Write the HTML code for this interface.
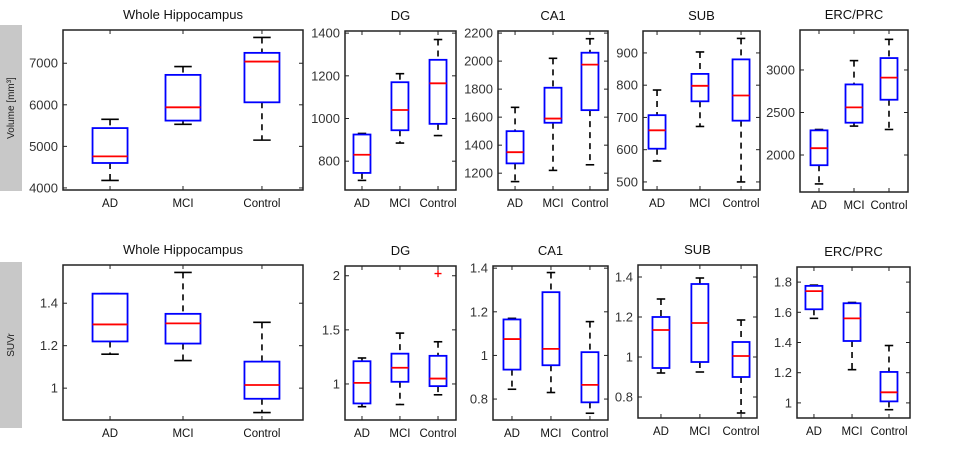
<!DOCTYPE html>
<html><head><meta charset="utf-8"><style>
body{margin:0;background:#fff;width:974px;height:447px;overflow:hidden;font-family:"Liberation Sans",sans-serif}
svg text{font-family:"Liberation Sans",sans-serif}
</style></head><body>
<svg id="chart" width="974" height="447">
<rect x="0" y="25" width="22" height="166" fill="#c8c8c8"/>
<text transform="translate(14,108) rotate(-90)" text-anchor="middle" font-size="10" fill="#222">Volume [mm³]</text>
<rect x="0" y="262" width="22" height="166" fill="#c8c8c8"/>
<text transform="translate(14,345) rotate(-90)" text-anchor="middle" font-size="10" fill="#222">SUVr</text>
</svg>
<script>
const categories = ["AD","MCI","Control"];
// Volume row
const volWH_lo=[4180,5530,5150], volWH_q1=[4600,5620,6060], volWH_med=[4760,5940,7040], volWH_q3=[5440,6720,7250], volWH_hi=[5650,6920,7620];
const volWH_ticks=[4000,5000,6000,7000];
const volDG_lo=[710,885,920], volDG_q1=[745,945,975], volDG_med=[830,1040,1165], volDG_q3=[925,1170,1275], volDG_hi=[930,1210,1370];
const volDG_ticks=[800,1000,1200,1400];
const volCA1_lo=[1140,1220,1260], volCA1_q1=[1270,1560,1650], volCA1_med=[1350,1590,1975], volCA1_q3=[1500,1810,2060], volCA1_hi=[1670,2020,2160];
const volCA1_ticks=[1200,1400,1600,1800,2000,2200];
const volSUB_lo=[565,672,500], volSUB_q1=[603,750,690], volSUB_med=[660,798,768], volSUB_q3=[707,835,880], volSUB_hi=[785,903,945];
const volSUB_ticks=[500,600,700,800,900];
const volERC_lo=[1660,2340,2300], volERC_q1=[1880,2380,2650], volERC_med=[2080,2560,2910], volERC_q3=[2290,2830,3140], volERC_hi=[2300,3110,3360];
const volERC_ticks=[2000,2500,3000];
// SUVr row
const suvWH_lo=[1.16,1.13,0.885], suvWH_q1=[1.22,1.21,0.95], suvWH_med=[1.30,1.305,1.015], suvWH_q3=[1.445,1.35,1.125], suvWH_hi=[1.445,1.545,1.31];
const suvWH_ticks=[1,1.2,1.4];
const suvDG_lo=[0.79,0.81,0.9], suvDG_q1=[0.82,1.02,0.98], suvDG_med=[1.01,1.15,1.05], suvDG_q3=[1.21,1.28,1.26], suvDG_hi=[1.24,1.47,1.39];
const suvDG_outliers=[null,null,2.02];
const suvDG_ticks=[1,1.5,2];
const suvCA1_lo=[0.845,0.83,0.735], suvCA1_q1=[0.935,0.955,0.785], suvCA1_med=[1.075,1.03,0.865], suvCA1_q3=[1.165,1.29,1.015], suvCA1_hi=[1.17,1.38,1.155];
const suvCA1_ticks=[0.8,1,1.2,1.4];
const suvSUB_lo=[0.92,0.925,0.72], suvSUB_q1=[0.945,0.975,0.9], suvSUB_med=[1.135,1.17,1.005], suvSUB_q3=[1.2,1.365,1.075], suvSUB_hi=[1.29,1.395,1.185];
const suvSUB_ticks=[0.8,1,1.2,1.4];
const suvERC_lo=[1.56,1.22,0.955], suvERC_q1=[1.62,1.41,1.01], suvERC_med=[1.74,1.56,1.07], suvERC_q3=[1.775,1.66,1.205], suvERC_hi=[1.78,1.665,1.38];
const suvERC_ticks=[1,1.2,1.4,1.6,1.8];

const NS="http://www.w3.org/2000/svg";
const svg=document.getElementById('chart');
function mk(tag,attrs,parent){const e=document.createElementNS(NS,tag);for(const k in attrs)e.setAttribute(k,attrs[k]);(parent||svg).appendChild(e);return e;}

function panel(p){
  const g=mk('g',{});
  
  
  const y=v=>p.y1-(v-p.ymin)/(p.ymax-p.ymin)*(p.y1-p.y0);
  const x=i=>p.x0+p.cx[i]*(p.x1-p.x0);
  const t=mk('text',{x:(p.x0+p.x1)/2,y:p.y0-11,'text-anchor':'middle','font-size':13,fill:'#111'},g);
  t.textContent=p.title;
  
  
  p.ticks.forEach(v=>{
    const yy=y(v);
    mk('line',{x1:p.x0,x2:p.x0+4,y1:yy,y2:yy,stroke:'#222','stroke-width':1},g);
    mk('line',{x1:p.x1,x2:p.x1-4,y1:yy,y2:yy,stroke:'#222','stroke-width':1},g);
    const tl=mk('text',{x:p.x0-5,y:yy+4.5,'text-anchor':'end','font-size':13,fill:'#333'},g);
    tl.textContent=String(v);
    
    
  });
  categories.forEach((c,i)=>{
    const xx=x(i);
    mk('line',{x1:xx,x2:xx,y1:p.y1,y2:p.y1-4,stroke:'#222'},g);
    mk('line',{x1:xx,x2:xx,y1:p.y0,y2:p.y0+4,stroke:'#222'},g);
    const xl=mk('text',{x:xx,y:p.y1+17,'text-anchor':'middle','font-size':11.5,fill:'#111'},g);
    xl.textContent=c;
    
    
    const b=mk('g',{},g);
    
    
    const hw=p.bw/2, cw=p.bw/4;
    mk('line',{x1:xx,x2:xx,y1:y(p.hi[i]),y2:y(p.q3[i]),stroke:'#000','stroke-width':1.6,'stroke-dasharray':'6,5'},b);
    mk('line',{x1:xx,x2:xx,y1:y(p.q1[i]),y2:y(p.lo[i]),stroke:'#000','stroke-width':1.6,'stroke-dasharray':'6,5'},b);
    mk('line',{x1:xx-cw,x2:xx+cw,y1:y(p.hi[i]),y2:y(p.hi[i]),stroke:'#000','stroke-width':1.6},b);
    mk('line',{x1:xx-cw,x2:xx+cw,y1:y(p.lo[i]),y2:y(p.lo[i]),stroke:'#000','stroke-width':1.6},b);
    mk('rect',{x:xx-hw,y:y(p.q3[i]),width:p.bw,height:y(p.q1[i])-y(p.q3[i]),fill:'#fff',stroke:'#0000ff','stroke-width':1.8},b);
    mk('line',{x1:xx-hw,x2:xx+hw,y1:y(p.med[i]),y2:y(p.med[i]),stroke:'#ff0000','stroke-width':1.8},b);
    if(p.out&&p.out[i]!=null){
      const oy=y(p.out[i]);
      mk('path',{d:`M${xx-3.5},${oy}H${xx+3.5}M${xx},${oy-3.5}V${oy+3.5}`,stroke:'#ff0000','stroke-width':1.3},b);
    }
  });
  mk('rect',{x:p.x0,y:p.y0,width:p.x1-p.x0,height:p.y1-p.y0,fill:'none',stroke:'#222','stroke-width':1.5},g);
}
const mid=[0.2,0.5,0.82];
panel({name:'volume-whole-hippocampus',title:'Whole Hippocampus',x0:63,x1:303,y0:30,y1:190,ymin:3950,ymax:7800,cx:[0.196,0.5,0.829],bw:35,ticks:volWH_ticks,lo:volWH_lo,q1:volWH_q1,med:volWH_med,q3:volWH_q3,hi:volWH_hi});
panel({name:'volume-dg',title:'DG',x0:345,x1:456,y0:31,y1:190,ymin:665,ymax:1410,cx:[0.153,0.495,0.838],bw:17,ticks:volDG_ticks,lo:volDG_lo,q1:volDG_q1,med:volDG_med,q3:volDG_q3,hi:volDG_hi});
panel({name:'volume-ca1',title:'CA1',x0:498,x1:608,y0:31,y1:190,ymin:1080,ymax:2215,cx:[0.155,0.5,0.836],bw:17,ticks:volCA1_ticks,lo:volCA1_lo,q1:volCA1_q1,med:volCA1_med,q3:volCA1_q3,hi:volCA1_hi});
panel({name:'volume-sub',title:'SUB',x0:643,x1:760,y0:31,y1:190,ymin:475,ymax:968,cx:[0.12,0.487,0.838],bw:17,ticks:volSUB_ticks,lo:volSUB_lo,q1:volSUB_q1,med:volSUB_med,q3:volSUB_q3,hi:volSUB_hi});
panel({name:'volume-erc-prc',title:'ERC/PRC',x0:800,x1:908,y0:30,y1:192,ymin:1565,ymax:3470,cx:[0.176,0.5,0.824],bw:17,ticks:volERC_ticks,lo:volERC_lo,q1:volERC_q1,med:volERC_med,q3:volERC_q3,hi:volERC_hi});
panel({name:'suvr-whole-hippocampus',title:'Whole Hippocampus',x0:63,x1:303,y0:265,y1:420,ymin:0.85,ymax:1.58,cx:[0.196,0.5,0.829],bw:35,ticks:suvWH_ticks,lo:suvWH_lo,q1:suvWH_q1,med:suvWH_med,q3:suvWH_q3,hi:suvWH_hi});
panel({name:'suvr-dg',title:'DG',x0:345,x1:456,y0:266,y1:420,ymin:0.667,ymax:2.09,cx:[0.153,0.495,0.838],bw:17,ticks:suvDG_ticks,lo:suvDG_lo,q1:suvDG_q1,med:suvDG_med,q3:suvDG_q3,hi:suvDG_hi,out:suvDG_outliers});
panel({name:'suvr-ca1',title:'CA1',x0:493,x1:608,y0:266,y1:420,ymin:0.704,ymax:1.41,cx:[0.165,0.504,0.843],bw:17,ticks:suvCA1_ticks,lo:suvCA1_lo,q1:suvCA1_q1,med:suvCA1_med,q3:suvCA1_q3,hi:suvCA1_hi});
panel({name:'suvr-sub',title:'SUB',x0:638,x1:757,y0:265,y1:418,ymin:0.695,ymax:1.46,cx:[0.193,0.52,0.866],bw:17,ticks:suvSUB_ticks,lo:suvSUB_lo,q1:suvSUB_q1,med:suvSUB_med,q3:suvSUB_q3,hi:suvSUB_hi});
panel({name:'suvr-erc-prc',title:'ERC/PRC',x0:797,x1:910,y0:267,y1:418,ymin:0.90,ymax:1.9,cx:[0.15,0.487,0.814],bw:17,ticks:suvERC_ticks,lo:suvERC_lo,q1:suvERC_q1,med:suvERC_med,q3:suvERC_q3,hi:suvERC_hi});
</script>
</body></html>
